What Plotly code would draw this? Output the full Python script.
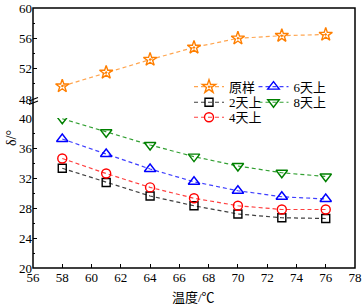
import plotly.graph_objects as go

temps = [58, 61, 64, 67, 70, 73, 76]
raw = [49.7, 51.5, 53.2, 54.8, 56.0, 56.35, 56.5]
day2 = [33.3, 31.4, 29.6, 28.3, 27.2, 26.7, 26.6]
day4 = [34.6, 32.6, 30.75, 29.3, 28.3, 27.8, 27.8]
day6 = [37.2, 35.2, 33.2, 31.5, 30.3, 29.5, 29.2]
day8 = [39.9, 38.1, 36.4, 34.85, 33.6, 32.7, 32.2]
names = ["原样", "2天上", "4天上", "6天上", "8天上"]

W, H = 363, 306
L, R, T, B = 33, 8, 8, 38
PW, PH = W - L - R, H - T - B

def px(x):
    return (x - L) / PW

def py(y):
    return (H - B - y) / PH

FONT = '"Liberation Serif", "Noto Sans CJK SC", serif'

fig = go.Figure()

series = [
    (raw, names[0], "#FF7F00", "#FFA54F", "star-open-dot", 10, "y2", "legend"),
    (day2, names[1], "#000000", "#404040", "square-open", 8, "y", "legend2"),
    (day4, names[2], "#FF0000", "#FF4040", "circle-open", 9, "y", "legend3"),
    (day6, names[3], "#0000FF", "#4040FF", "triangle-up-open", 10, "y", "legend4"),
    (day8, names[4], "#008000", "#33A033", "triangle-down-open", 10, "y", "legend5"),
]
for vals, nm, mc, lc, sym, sz, ya, lg in series:
    fig.add_trace(go.Scatter(
        x=temps, y=vals, name=nm, mode="lines+markers", yaxis=ya, legend=lg,
        line=dict(color=lc, width=1.2, dash="4px,3px"),
        marker=dict(symbol=sym, size=sz, color=mc, line=dict(color=mc, width=1.4)),
    ))

legpos = {
    "legend": (189, 86.7), "legend2": (189, 102.3), "legend3": (189, 117.3),
    "legend4": (253.5, 86.7), "legend5": (253.5, 102.3),
}
leg_layout = {}
for k, (lx, ly) in legpos.items():
    leg_layout[k] = dict(
        x=px(lx), y=py(ly), xanchor="left", yanchor="middle",
        bgcolor="rgba(0,0,0,0)", borderwidth=0,
        font=dict(family=FONT, size=13, color="black"),
        itemwidth=30,
    )

axis_common = dict(
    showline=False, ticks="inside", ticklen=4, tickwidth=1, tickcolor="black",
    showgrid=False, zeroline=False, automargin=False,
    tickfont=dict(family=FONT, size=13, color="black"),
)

fig.update_layout(
    width=W, height=H, autosize=False,
    margin=dict(l=L, r=R, t=T, b=B, pad=0),
    plot_bgcolor="white", paper_bgcolor="white",
    showlegend=True,
    xaxis=dict(range=[56, 78], dtick=2, tick0=56, anchor="y", **axis_common),
    yaxis=dict(domain=[0, 150 / PH], range=[20, 40], dtick=4, tick0=20, anchor="x",
               minor=dict(dtick=2, ticks="inside", ticklen=2, tickcolor="black"),
               **axis_common),
    yaxis2=dict(domain=[169 / PH, 1], range=[48, 60], dtick=4, tick0=48, anchor="x",
                minor=dict(dtick=2, ticks="inside", ticklen=2, tickcolor="black"),
                **axis_common),
    **leg_layout,
)

shapes = [
    dict(type="rect", xref="paper", yref="paper", x0=0, x1=1, y0=0, y1=1,
         line=dict(color="black", width=1.5)),
    dict(type="line", xref="paper", yref="paper", x0=px(29), x1=px(38), y0=py(101), y1=py(97.5),
         line=dict(color="black", width=1.2)),
    dict(type="line", xref="paper", yref="paper", x0=px(29), x1=px(38), y0=py(104.5), y1=py(101),
         line=dict(color="black", width=1.2)),
]
fig.update_layout(shapes=shapes)

fig.add_annotation(text="温度/℃", xref="paper", yref="paper", x=px(193), y=py(297),
                   xanchor="center", yanchor="middle", showarrow=False,
                   font=dict(family=FONT, size=13, color="black"))
fig.add_annotation(text="δ/°", xref="paper", yref="paper", x=px(11), y=py(138),
                   xanchor="center", yanchor="middle", showarrow=False, textangle=-90,
                   font=dict(family=FONT, size=14, color="black"))

fig.write_html("out.html", config={"responsive": False, "displayModeBar": False},
               post_script="document.body.style.margin='0';document.body.style.overflow='hidden';")
